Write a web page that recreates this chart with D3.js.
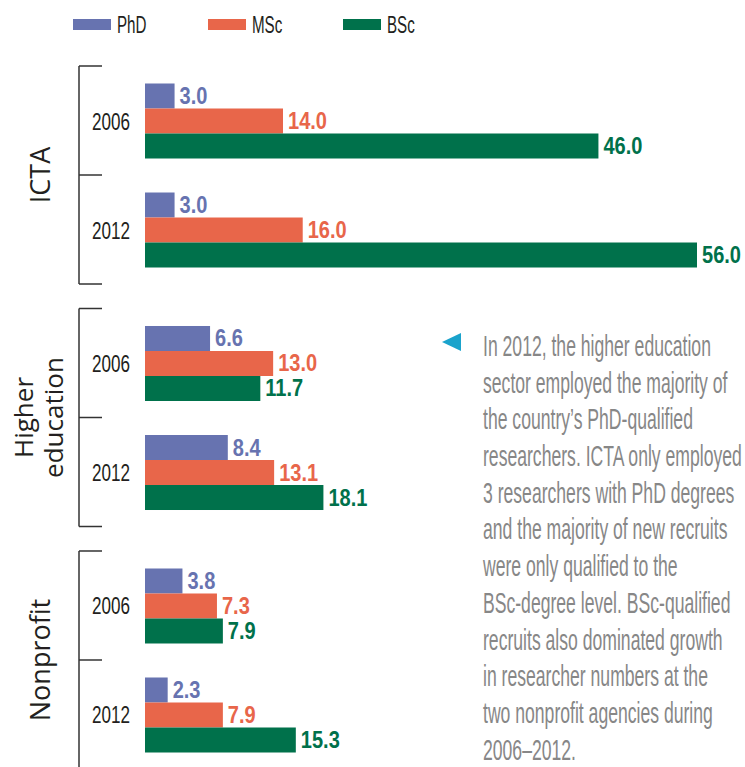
<!DOCTYPE html>
<html>
<head>
    <meta charset="utf-8">
    <title>Researchers by degree</title>
    <script src="https://cdn.jsdelivr.net/npm/d3@7"></script>
    <style>
        body { margin: 0; background: #fff; }
        svg { display: block; }
    </style>
</head>
<body>
<div id="chart"></div>
<script>
    // data
    const groups = ["ICTA", "Higher education", "Nonprofit"];
    const years = ["2006", "2012"];
    const degrees = ["PhD", "MSc", "BSc"];
    // one value per group/year, order: ICTA 2006, ICTA 2012, HE 2006, HE 2012, NP 2006, NP 2012
    const phd = [3.0, 3.0, 6.6, 8.4, 3.8, 2.3];
    const msc = [14.0, 16.0, 13.0, 13.1, 7.3, 7.9];
    const bsc = [46.0, 56.0, 11.7, 18.1, 7.9, 15.3];
    const colors = ["#6773b0", "#e8664a", "#00714b"];

    const noteLines = [
        "In 2012, the higher education",
        "sector employed the majority of",
        "the country\u2019s PhD-qualified",
        "researchers. ICTA only employed",
        "3 researchers with PhD degrees",
        "and the majority of new recruits",
        "were only qualified to the",
        "BSc-degree level. BSc-qualified",
        "recruits also dominated growth",
        "in researcher numbers at the",
        "two nonprofit agencies during",
        "2006\u20132012."
    ];

    // no condensed face installed, so squeeze a normal one sideways
    const sans = "'Liberation Sans', Arial, sans-serif";

    const series = [phd, msc, bsc];
    const rows = [];
    groups.forEach((g, i) => {
        years.forEach((y, j) => {
            degrees.forEach((dg, k) => {
                rows.push({ group: g, year: y, degree: dg, value: series[k][i * 2 + j], color: colors[k] });
            });
        });
    });

    const svg = d3.select("#chart")
        .append("svg")
        .attr("width", 745)
        .attr("height", 767);

    // how much to squeeze a font so that the widest of `samples` comes out `target` px wide
    function squeeze(samples, size, weight, target) {
        let w = 0;
        samples.forEach(s => {
            const t = svg.append("text")
                .attr("font-family", sans)
                .attr("font-size", size)
                .attr("font-weight", weight)
                .text(s);
            w = Math.max(w, t.node().getComputedTextLength());
            t.remove();
        });
        return target / w;
    }
    const sLegend = squeeze(["PhD"], 24, "normal", 29.5);
    const sYear = squeeze(["2006"], 24, "normal", 38);
    const sValue = squeeze(["46.0"], 23, "bold", 39);
    const sNote = squeeze(noteLines, 30, "normal", 259);

    // scales
    const x = d3.scaleLinear().domain([0, 56]).range([145, 697]);
    const yGroup = d3.scaleBand().domain(groups).range([66, 769]).paddingInner(0.101);
    const yYear = d3.scaleBand().domain(years).range([0, yGroup.bandwidth()]);
    const yDeg = d3.scaleBand().domain(degrees).range([17.5, yYear.bandwidth() - 16.5]);

    const barY = d => yGroup(d.group) + yYear(d.year) + yDeg(d.degree);

    // legend
    const legend = svg.append("g")
        .selectAll("g")
        .data(degrees)
        .join("g")
        .attr("transform", (d, i) => `translate(${73 + i * 135},0)`);
    legend.append("rect")
        .attr("x", 0).attr("y", 19)
        .attr("width", 38).attr("height", 11)
        .attr("fill", (d, i) => colors[i]);
    legend.append("text")
        .attr("transform", `translate(44,33) scale(${sLegend},1)`)
        .attr("font-family", sans)
        .attr("font-size", 24)
        .attr("fill", "#231f20")
        .text(d => d);

    // brackets on the left
    const bracket = svg.append("g")
        .attr("stroke", "#333")
        .attr("stroke-width", 1.5)
        .attr("fill", "none");
    groups.forEach(g => {
        const top = yGroup(g), bot = top + yGroup.bandwidth();
        bracket.append("line").attr("x1", 79).attr("x2", 79).attr("y1", top).attr("y2", bot);
        [top, top + yYear.bandwidth(), bot].forEach(t => {
            bracket.append("line").attr("x1", 79).attr("x2", 102).attr("y1", t).attr("y2", t);
        });
    });

    // year labels
    groups.forEach(g => {
        svg.append("g")
            .selectAll("text")
            .data(years)
            .join("text")
            .attr("transform", d => `translate(111,${yGroup(g) + yYear(d) + yYear.bandwidth() / 2 + 9}) scale(${sYear},1)`)
            .attr("text-anchor", "middle")
            .attr("font-family", sans)
            .attr("font-size", 24)
            .attr("fill", "#231f20")
            .text(d => d);
    });

    // group labels, rotated
    const groupLabel = svg.append("g")
        .attr("font-family", "'Open Sans', 'Noto Sans', sans-serif")
        .attr("fill", "#231f20")
        .attr("text-anchor", "middle");
    groups.forEach(g => {
        const mid = yGroup(g) + yGroup.bandwidth() / 2;
        const parts = g.split(" ");
        const base = parts.length > 1 ? 33 : 50;
        parts.forEach((p, i) => {
            groupLabel.append("text")
                .attr("transform", `translate(${base + i * 30},${mid}) rotate(-90)`)
                .attr("font-size", parts.length > 1 ? 26 : 27)
                .text(p);
        });
    });

    // bars
    svg.append("g")
        .selectAll("rect")
        .data(rows)
        .join("rect")
        .attr("x", x(0))
        .attr("y", barY)
        .attr("width", d => x(d.value) - x(0))
        .attr("height", yDeg.bandwidth())
        .attr("fill", d => d.color);

    // value labels
    svg.append("g")
        .selectAll("text")
        .data(rows)
        .join("text")
        .attr("transform", d => `translate(${x(d.value) + 5},${barY(d) + yDeg.bandwidth() / 2 + 8}) scale(${sValue},1)`)
        .attr("font-family", sans)
        .attr("font-weight", "bold")
        .attr("font-size", 23)
        .attr("fill", d => d.color)
        .text(d => d3.format(".1f")(d.value));

    // side note
    svg.append("path")
        .attr("d", "M442,342L461,333L461,351Z")
        .attr("fill", "#1aa3cc");

    svg.append("g")
        .attr("transform", `translate(483,0) scale(${sNote},1)`)
        .selectAll("text")
        .data(noteLines)
        .join("text")
        .attr("x", 0)
        .attr("y", (d, i) => 356 + i * 36.7)
        .attr("font-family", sans)
        .attr("font-size", 30)
        .attr("fill", "#878787")
        .text(d => d);
</script>
</body>
</html>
